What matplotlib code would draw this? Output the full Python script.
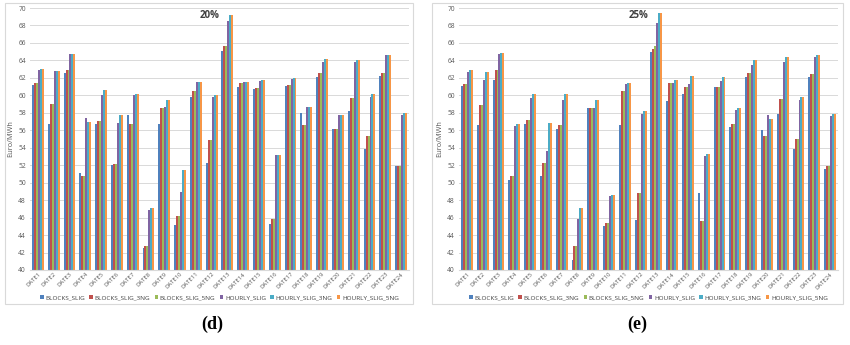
import numpy as np
import matplotlib
matplotlib.use('Agg')
import matplotlib.pyplot as plt
from matplotlib.patches import Rectangle

dates = ['DATE%d' % i for i in range(1, 25)]
series = ['BLOCKS_SLIG', 'BLOCKS_SLIG_3NG', 'BLOCKS_SLIG_5NG',
          'HOURLY_SLIG', 'HOURLY_SLIG_3NG', 'HOURLY_SLIG_5NG']
colors = ['#4F81BD', '#C0504D', '#9BBB59', '#8064A2', '#4BACC6', '#F79646']

# panel (d) 20%
d_blocks_slig = [61.2, 56.7, 62.6, 51.1, 56.7, 52.0, 57.8, 42.5, 56.7, 45.1, 59.8, 52.2,
                 65.1, 60.9, 60.7, 45.3, 61.1, 58.0, 62.1, 56.1, 58.2, 53.9, 62.2, 51.9]
d_blocks_3ng = [61.4, 59.0, 62.9, 50.8, 57.1, 52.1, 56.7, 42.7, 58.6, 46.2, 60.5, 54.9,
                65.6, 61.4, 60.8, 45.8, 61.2, 56.6, 62.6, 56.1, 59.7, 55.4, 62.6, 51.9]
d_blocks_5ng = [61.4, 59.0, 62.9, 50.8, 57.1, 52.1, 56.7, 42.7, 58.6, 46.2, 60.5, 54.9,
                65.6, 61.4, 60.8, 45.8, 61.2, 56.6, 62.6, 56.1, 59.7, 55.4, 62.6, 51.9]
d_hourly_slig = [62.9, 62.8, 64.7, 57.4, 60.0, 56.8, 60.0, 46.9, 58.7, 48.9, 61.5, 59.8,
                 68.5, 61.5, 61.6, 53.2, 61.9, 58.7, 63.8, 57.8, 63.8, 59.8, 64.6, 57.8]
d_hourly_3ng = [63.0, 62.8, 64.7, 57.0, 60.6, 57.8, 60.2, 47.1, 59.5, 51.5, 61.5, 60.0,
                69.2, 61.5, 61.7, 53.2, 62.0, 58.7, 64.2, 57.8, 64.1, 60.2, 64.6, 58.0]
d_hourly_5ng = [63.0, 62.8, 64.7, 57.0, 60.6, 57.8, 60.2, 47.1, 59.5, 51.5, 61.5, 60.0,
                69.2, 61.5, 61.7, 53.2, 62.0, 58.7, 64.2, 57.8, 64.1, 60.2, 64.6, 58.0]

# panel (e) 25%
e_blocks_slig = [61.1, 56.6, 61.8, 50.3, 56.7, 50.8, 56.2, 41.1, 58.6, 45.0, 56.6, 45.7,
                 65.0, 59.3, 60.2, 48.8, 60.9, 56.4, 62.1, 56.0, 57.9, 53.8, 62.1, 51.6]
e_blocks_3ng = [61.3, 58.9, 62.9, 50.8, 57.2, 52.2, 56.6, 42.8, 58.6, 45.4, 60.5, 48.8,
                65.3, 61.4, 61.0, 45.6, 61.0, 56.7, 62.6, 55.3, 59.6, 55.0, 62.4, 51.9]
e_blocks_5ng = [61.3, 58.9, 62.9, 50.8, 57.2, 52.2, 56.6, 42.8, 58.6, 45.4, 60.5, 48.8,
                65.7, 61.4, 61.0, 45.6, 61.0, 56.7, 62.6, 55.3, 59.6, 55.0, 62.4, 51.9]
e_hourly_slig = [62.7, 61.8, 64.7, 56.5, 59.7, 53.6, 59.5, 45.8, 58.6, 48.5, 61.3, 57.9,
                 68.3, 61.4, 61.3, 53.1, 61.6, 58.3, 63.5, 57.7, 63.8, 59.5, 64.4, 57.6]
e_hourly_3ng = [62.9, 62.7, 64.8, 56.7, 60.1, 56.8, 60.1, 47.1, 59.5, 48.6, 61.4, 58.2,
                69.4, 61.8, 62.2, 53.3, 62.1, 58.6, 64.1, 57.3, 64.4, 59.8, 64.6, 57.9]
e_hourly_5ng = [62.9, 62.7, 64.8, 56.7, 60.1, 56.8, 60.1, 47.1, 59.5, 48.6, 61.4, 58.2,
                69.4, 61.8, 62.2, 53.3, 62.1, 58.6, 64.1, 57.3, 64.4, 59.8, 64.6, 57.9]

panel_d = [d_blocks_slig, d_blocks_3ng, d_blocks_5ng, d_hourly_slig, d_hourly_3ng, d_hourly_5ng]
panel_e = [e_blocks_slig, e_blocks_3ng, e_blocks_5ng, e_hourly_slig, e_hourly_3ng, e_hourly_5ng]

plt.rcParams['font.family'] = ['Open Sans', 'DejaVu Sans']

fig = plt.figure(figsize=(8.5, 3.45), dpi=100)

# light chart frames like the excel export
for x0, x1 in [(5, 413), (432, 843)]:
    fig.patches.append(Rectangle((x0 / 850, 1 - 304 / 345), (x1 - x0) / 850, 301 / 345,
                                 transform=fig.transFigure, facecolor='none',
                                 edgecolor='#D9D9D9', linewidth=0.8))


def draw_panel(left, data, title, title_x, letter, letter_x):
    ax = fig.add_axes([left / 850, 1 - 270 / 345, 379 / 850, 262 / 345])
    ax.patch.set_alpha(0)
    x = np.arange(len(dates))
    w = 0.125
    for i, vals in enumerate(data):
        ax.bar(x + (i - 2.5) * w, np.array(vals) - 40, w, bottom=40,
               color=colors[i], label=series[i], zorder=2)
    ax.set_ylim(40, 70)
    ax.set_xlim(-0.5, len(dates) - 0.5)
    ax.set_yticks(range(40, 71, 2))
    ax.yaxis.grid(True, color='#D9D9D9', linewidth=0.7, zorder=0)
    ax.set_axisbelow(True)
    for s in ['top', 'right', 'left']:
        ax.spines[s].set_visible(False)
    ax.spines['bottom'].set_color('#D9D9D9')
    ax.tick_params(axis='y', length=0, labelsize=4.8, colors='#595959', pad=3)
    ax.tick_params(axis='x', length=0, labelsize=4.2, colors='#595959', pad=1)
    ax.set_xticks(x)
    ax.set_xticklabels(dates, rotation=45, ha='right', rotation_mode='anchor')
    ax.set_ylabel('Euro/MWh', fontsize=5.3, color='#595959', labelpad=3)
    fig.text(title_x / 850, 1 - 15 / 345, title, ha='center', va='center',
             fontsize=7, fontweight='bold', color='#404040')
    ax.legend(loc='center', bbox_to_anchor=(0.5, -0.105), ncol=6, frameon=False,
              fontsize=4.6, handlelength=0.55, handleheight=0.55, handletextpad=0.25,
              columnspacing=0.7, labelcolor='#404040', borderpad=0)
    fig.text(letter_x / 850, 1 - 324 / 345, letter, ha='center', va='center',
             fontsize=13, fontweight='bold', family='Liberation Serif')
    return ax


draw_panel(30, panel_d, '20%', 210, '(d)', 212)
draw_panel(459, panel_e, '25%', 639, '(e)', 637)

fig.savefig('out.png', dpi=100)
